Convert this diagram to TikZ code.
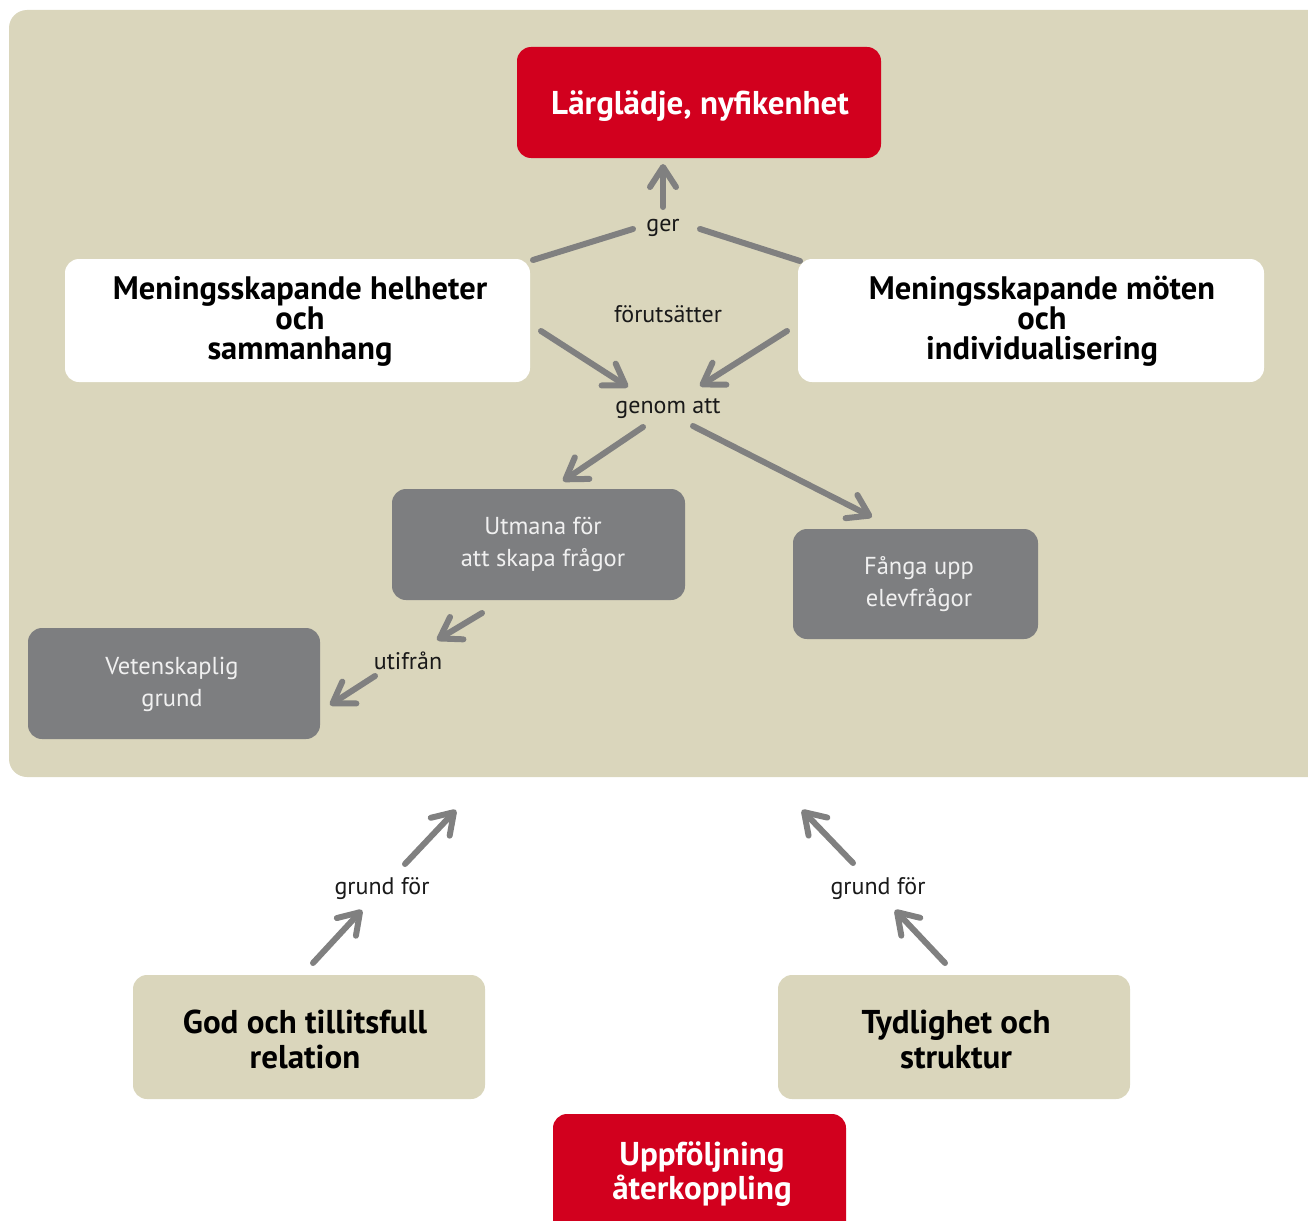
\documentclass[tikz,border=0pt]{standalone}
\usepackage{fontspec}
\setmainfont{PT Sans}
\usetikzlibrary{arrows.meta}
\definecolor{panel}{RGB}{218,214,188}
\definecolor{boxred}{RGB}{210,0,30}
\definecolor{boxgray}{RGB}{125,126,128}
\definecolor{arrowgray}{RGB}{128,128,128}
\definecolor{labelink}{RGB}{25,25,25}
\begin{document}
\begin{tikzpicture}[x=1pt,y=-1pt,
  box/.style={rectangle, rounded corners=14pt, inner sep=0pt, align=center},
  redbox/.style={box, fill=boxred, text=white, font=\fontsize{33}{34}\selectfont\bfseries},
  whitebox/.style={box, fill=white, text=black, font=\fontsize{32.5}{30}\selectfont\bfseries},
  graybox/.style={box, fill=boxgray, text=white!94!black, font=\fontsize{24.5}{32}\selectfont},
  beigebox/.style={box, fill=panel, text=black, font=\fontsize{33}{35}\selectfont\bfseries},
  txt/.style={inner sep=0pt, align=center},
  lbl/.style={inner sep=1pt, text=labelink, font=\fontsize{24}{26}\selectfont},
  conn/.style={draw=arrowgray, line width=6pt, line cap=round, line join=round},
  arr/.style={conn, -{Straight Barb[length=20pt,width=26pt,line cap=round,line join=round]}}
]
\useasboundingbox (0,0) rectangle (1308,1220);
\fill[panel, rounded corners=18pt] (9,10) rectangle (1340,777);

\node[redbox, minimum width=364pt, minimum height=111pt] (top) at (699,102.5) {};
\node[txt, text=white, font=\fontsize{33}{34}\selectfont\bfseries] (toptext) at (700,106) {Lärglädje, nyfikenhet};
\node[whitebox, minimum width=465pt, minimum height=123pt] (lw) at (297.5,320.5) {};
\node[txt, font=\fontsize{32.5}{30}\selectfont\bfseries] (lwtext) at (300,321) {Meningsskapande helheter\\och\\sammanhang};
\node[whitebox, minimum width=466pt, minimum height=123pt] (rw) at (1031,320.5) {};
\node[txt, font=\fontsize{32.5}{30}\selectfont\bfseries] (rwtext) at (1042,321) {Meningsskapande möten\\och\\individualisering};
\node[graybox, minimum width=293pt, minimum height=111pt] (utm) at (538.5,544.5) {};
\node[txt, text=white!94!black, font=\fontsize{24.5}{32}\selectfont] (utmtext) at (543,544.5) {Utmana för\\att skapa frågor};
\node[graybox, minimum width=245pt, minimum height=110pt] (fan) at (915.5,584) {};
\node[txt, text=white!94!black, font=\fontsize{24.5}{32}\selectfont] (fantext) at (919,584) {Fånga upp\\elevfrågor};
\node[graybox, minimum width=292pt, minimum height=111pt] (vet) at (174,683.5) {};
\node[txt, text=white!94!black, font=\fontsize{24.5}{32}\selectfont] (vettext) at (172,684) {Vetenskaplig\\grund};
\node[beigebox, minimum width=352pt, minimum height=124pt] (god) at (309,1037) {};
\node[txt, font=\fontsize{33}{35}\selectfont\bfseries] (godtext) at (305,1039) {God och tillitsfull\\relation};
\node[beigebox, minimum width=352pt, minimum height=124pt] (tyd) at (954,1037) {};
\node[txt, font=\fontsize{33}{35}\selectfont\bfseries] (tydtext) at (956,1039) {Tydlighet och\\struktur};
\node[redbox, minimum width=293pt, minimum height=124pt] (upp) at (699.5,1176) {};
\node[txt, text=white, font=\fontsize{33}{34}\selectfont\bfseries] (upptext) at (702,1174) {Uppföljning\\återkoppling};

\node[lbl] (ger) at (663,228) {ger};
\node[lbl] (for) at (668,314) {förutsätter};
\node[lbl] (gen) at (668,409) {genom att};
\node[lbl] (uti) at (408,661) {utifrån};
\node[lbl] (gr1) at (382,889) {grund för};
\node[lbl] (gr2) at (878,889) {grund för};

% free ends
\coordinate (g1) at (663,207);  \coordinate (g2) at (663,164);
\coordinate (gl1) at (533,260); \coordinate (gl2) at (633,229);
\coordinate (gr1a) at (700,229); \coordinate (gr2a) at (800,261);
\coordinate (a1) at (541,331); \coordinate (a2) at (628,387);
\coordinate (b1) at (787,331); \coordinate (b2) at (700,386);
\coordinate (c1) at (643,427); \coordinate (c2) at (563,481);
\coordinate (d1) at (693,426); \coordinate (d2) at (872,517);
\coordinate (e1) at (482,613); \coordinate (e2) at (437,640);
\coordinate (f1) at (375,676); \coordinate (f2) at (330,705);
\coordinate (h1) at (405,864); \coordinate (h2) at (456,810);
\coordinate (i1) at (313,963); \coordinate (i2) at (362,910);
\coordinate (j1) at (853,863); \coordinate (j2) at (802,810);
\coordinate (k1) at (945,963); \coordinate (k2) at (895,910);

\draw[arr] (g1) -- (g2);
\draw[conn] (gl1) -- (gl2);
\draw[conn] (gr1a) -- (gr2a);
\draw[arr] (a1) -- (a2);
\draw[arr] (b1) -- (b2);
\draw[arr] (c1) -- (c2);
\draw[arr] (d1) -- (d2);
\draw[arr] (e1) -- (e2);
\draw[arr] (f1) -- (f2);
\draw[arr] (h1) -- (h2);
\draw[arr] (i1) -- (i2);
\draw[arr] (j1) -- (j2);
\draw[arr] (k1) -- (k2);
\end{tikzpicture}
\end{document}
